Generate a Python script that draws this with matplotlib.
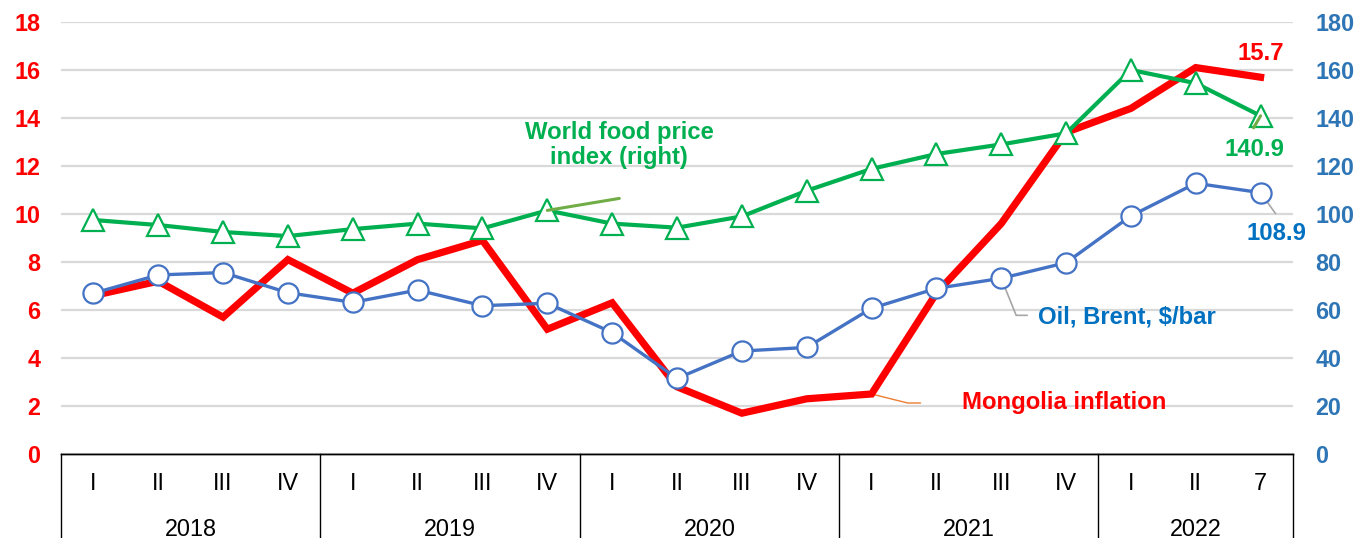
import matplotlib
matplotlib.use("Agg")
import matplotlib.pyplot as plt
import numpy as np

# ---------------- data ----------------
quarters = ["I", "II", "III", "IV"] * 4 + ["I", "II", "7"]
years = ["2018", "2019", "2020", "2021", "2022"]
year_counts = [4, 4, 4, 4, 3]
inflation = [6.6, 7.2, 5.7, 8.1, 6.7, 8.1, 8.9, 5.2, 6.3, 2.8, 1.7, 2.3, 2.5,
             6.7, 9.6, 13.4, 14.4, 16.1, 15.7]
food_index = [97.5, 95.4, 92.5, 90.8, 93.7, 96.0, 94.0, 101.5, 96.0, 94.3, 99.0,
              109.7, 118.8, 125.0, 129.0, 133.6, 160.0, 154.5, 140.9]
oil_brent = [67.0, 74.6, 75.6, 67.2, 63.2, 68.3, 61.8, 62.8, 50.6, 31.5, 42.9,
             44.4, 60.7, 69.0, 73.2, 79.7, 99.2, 112.8, 108.9]
left_ticks = list(range(0, 19, 2))
right_ticks = list(range(0, 181, 20))

RED = "#FF0000"
GREEN = "#00B050"
BLUE_LINE = "#4472C4"
BLUE_TEXT = "#0070C0"
BLUE_TICK = "#2E75B6"

plt.rcParams["font.family"] = ["Liberation Sans", "DejaVu Sans"]

W, H = 1359, 538
fig = plt.figure(figsize=(W / 100, H / 100), dpi=100)
ax = fig.add_axes([61 / W, (H - 454) / H, (1293 - 61) / W, 432 / H])
ax2 = ax.twinx()

x = np.arange(len(quarters))

# lines
ax.plot(x, inflation, color=RED, lw=5.2, solid_joinstyle="miter", zorder=3)
ax2.plot(x, oil_brent, color=BLUE_LINE, lw=2.4, marker="o", ms=14.5,
         mfc="white", mec=BLUE_LINE, mew=1.6, zorder=3)
ax2.plot(x, food_index, color=GREEN, lw=3.0, marker="^", ms=15.5,
         mfc="white", mec=GREEN, mew=1.6, zorder=4)

# axes limits / ticks
ax.set_xlim(-0.5, len(quarters) - 0.5)
ax.set_ylim(0, 18)
ax2.set_ylim(0, 180)
ax.set_yticks(left_ticks)
ax.set_yticklabels([str(v) for v in left_ticks], fontweight="bold",
                   fontsize=16.8, color=RED)
ax2.set_yticks(right_ticks)
ax2.set_yticklabels([str(v) for v in right_ticks], fontweight="bold",
                    fontsize=16.8, color=BLUE_TICK)
ax.tick_params(axis="y", length=0, pad=15)
ax2.tick_params(axis="y", length=0, pad=16)
ax.grid(axis="y", color="#D9D9D9", lw=1.6, zorder=0)
ax.set_axisbelow(True)

for a in (ax, ax2):
    for s in ("top", "left", "right"):
        a.spines[s].set_visible(False)
    a.spines["bottom"].set_color("black")
    a.spines["bottom"].set_linewidth(1.0)

# category table below axis
ax.set_xticks(x)
ax.set_xticklabels(quarters, fontsize=16.8)
ax.tick_params(axis="x", length=0, pad=13)
trans = ax.get_xaxis_transform()
bounds = np.concatenate([[0], np.cumsum(year_counts)]) - 0.5
for b in bounds:
    ax.plot([b, b], [0, -0.3], color="black", lw=1.0, transform=trans,
            clip_on=False, zorder=5)
for i, (yr, n) in enumerate(zip(years, year_counts)):
    cx = (bounds[i] + bounds[i + 1]) / 2
    ax.text(cx, -0.174, yr, transform=trans, ha="center", va="center",
            fontsize=16.8)

# annotations
def fx(px):
    return px / W

def fy(py):
    return 1 - py / H

FS = 17.2
fig.text(fx(1261), fy(54), f"{inflation[-1]}", color=RED, fontweight="bold",
         fontsize=FS, ha="center", va="center")
fig.text(fx(1254), fy(149), f"{food_index[-1]}", color=GREEN, fontweight="bold",
         fontsize=FS, ha="center", va="center")
fig.text(fx(1276), fy(233), f"{oil_brent[-1]}", color=BLUE_TEXT, fontweight="bold",
         fontsize=FS, ha="center", va="center")
fig.text(fx(1038), fy(317), "Oil, Brent, $/bar", color=BLUE_TEXT, fontweight="bold",
         fontsize=FS, ha="left", va="center")
fig.text(fx(962), fy(403), "Mongolia inflation", color=RED, fontweight="bold",
         fontsize=FS, ha="left", va="center")
fig.text(fx(619), fy(145), "World food price\nindex (right)", color=GREEN,
         fontweight="bold", fontsize=FS, ha="center", va="center",
         linespacing=1.08)

# leader lines
n = len(quarters)
ax2.annotate("", xy=(7, food_index[7]), xytext=(72, 12), textcoords="offset pixels",
             arrowprops=dict(arrowstyle="-", color="#70AD47", lw=2.2,
                             shrinkA=0, shrinkB=0), zorder=6)
ax2.annotate("", xy=(n - 1, food_index[-1]), xytext=(-7, -12),
             textcoords="offset pixels",
             arrowprops=dict(arrowstyle="-", color="#70AD47", lw=2.2,
                             shrinkA=0, shrinkB=0), zorder=6)
ax2.annotate("", xy=(n - 1, oil_brent[-1]), xytext=(15, -21),
             textcoords="offset pixels",
             arrowprops=dict(arrowstyle="-", color="#A6A6A6", lw=1.2,
                             shrinkA=0, shrinkB=0), zorder=2)
ax2.annotate("", xy=(14, oil_brent[14]), xytext=(26, -37),
             textcoords="offset pixels",
             arrowprops=dict(arrowstyle="-", color="#A6A6A6", lw=1.2,
                             shrinkA=0, shrinkB=0,
                             connectionstyle="angle,angleA=180,angleB=-68,rad=0"),
             zorder=2)
ax.annotate("", xy=(12, inflation[12]), xytext=(49, -9),
            textcoords="offset pixels",
            arrowprops=dict(arrowstyle="-", color="#ED7D31", lw=1.0,
                            shrinkA=0, shrinkB=0,
                            connectionstyle="angle,angleA=180,angleB=-14,rad=0"),
            zorder=2)

fig.savefig("out.png", dpi=100)
